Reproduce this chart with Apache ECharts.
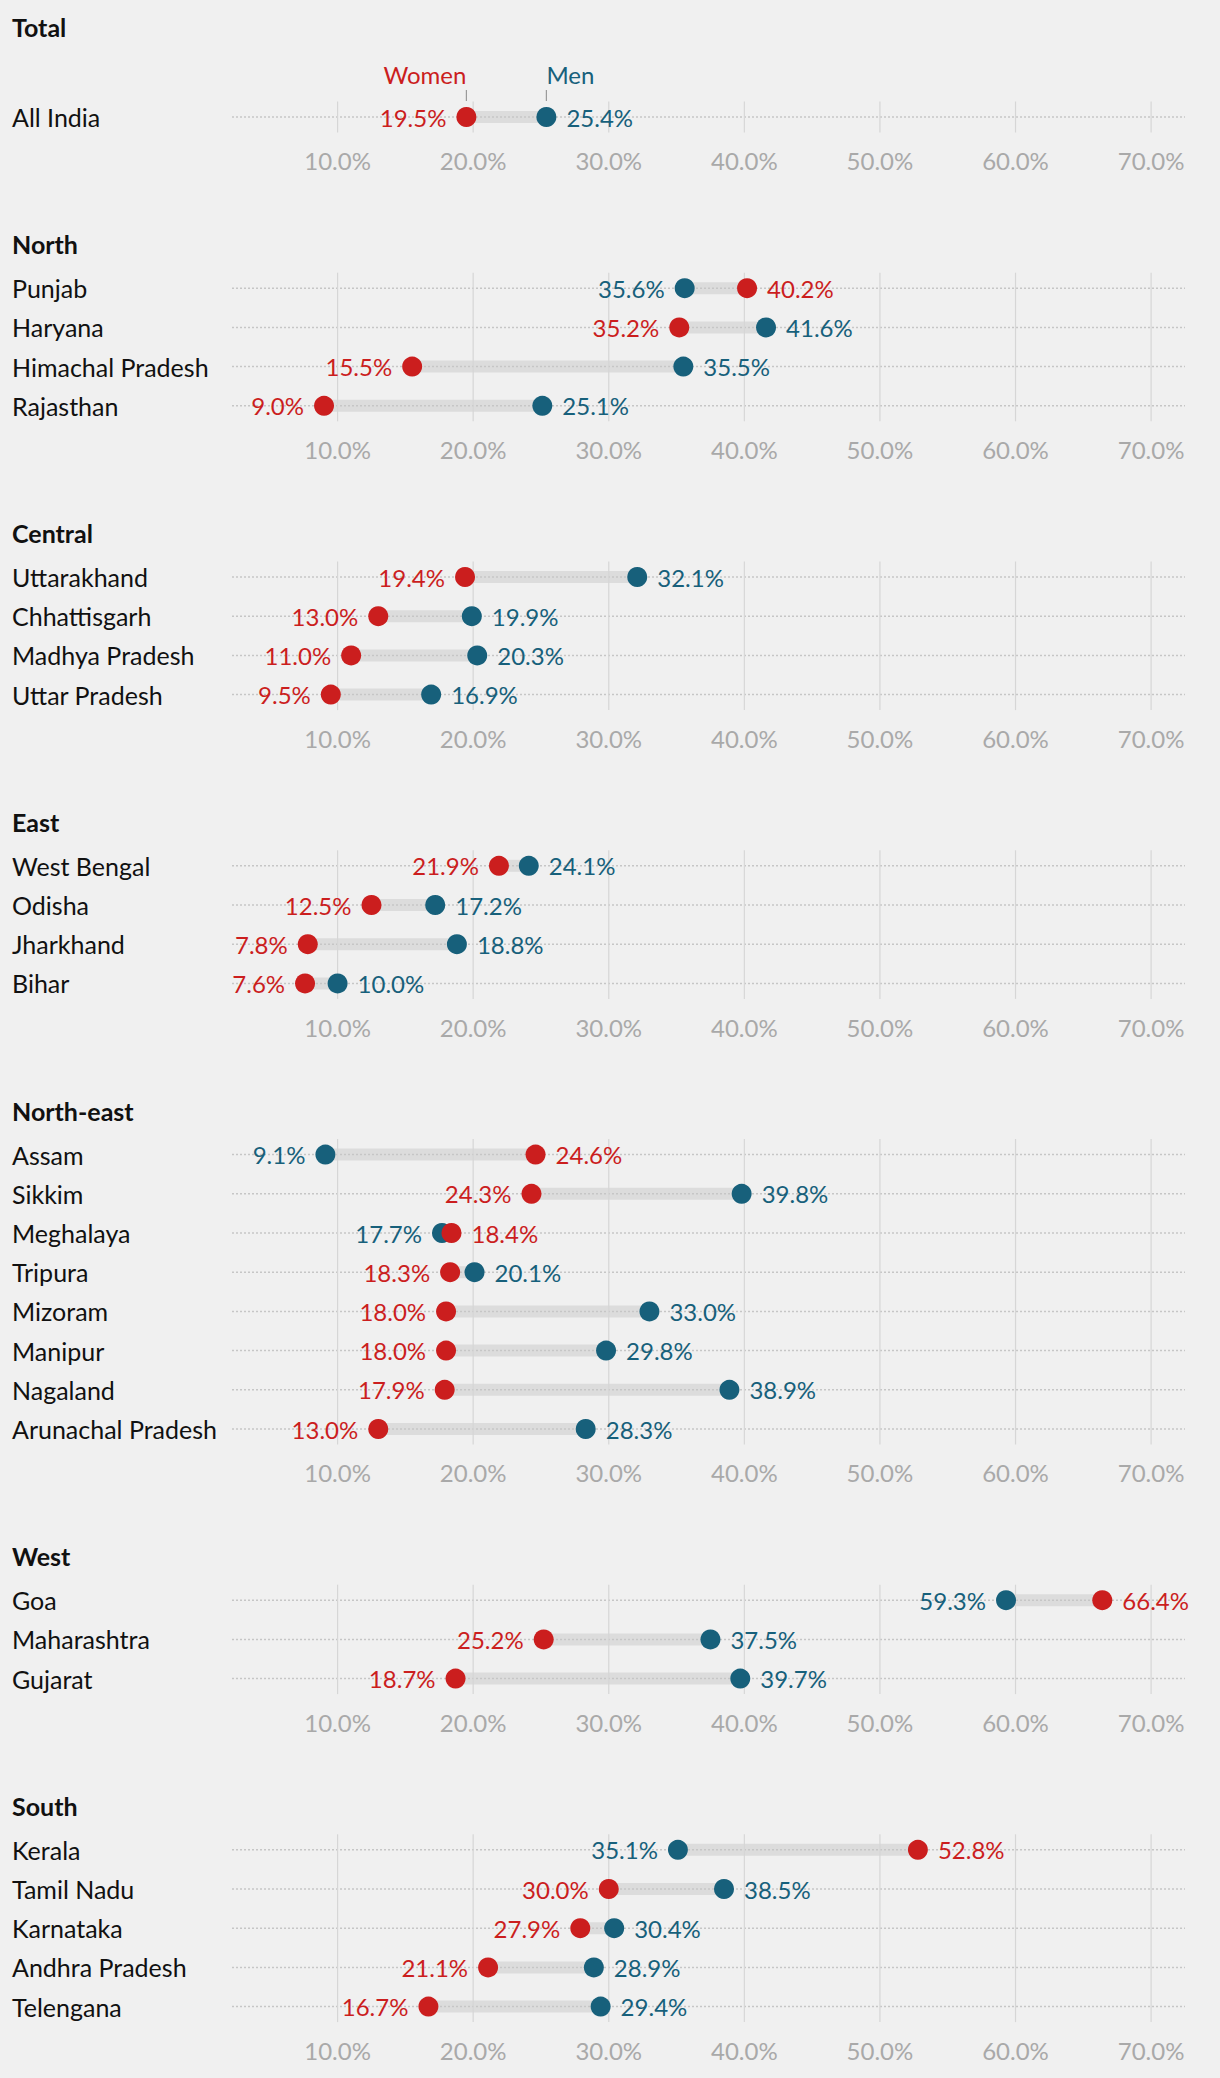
<!DOCTYPE html>
<html>
<head>
<meta charset="utf-8">
<script src="https://cdn.jsdelivr.net/npm/echarts@6/dist/echarts.min.js"></script>
<style>
html,body{margin:0;padding:0;background:#f0f0f0;}
#chart{width:1220px;height:2078px;}
</style>
</head>
<body>
<div id="chart"></div>
<script>
// ---------------- DATA ----------------
const regionNames = ['Total', 'North', 'Central', 'East', 'North-east', 'West', 'South'];

const totalStates = ['All India'];
const totalWomen  = [19.5];
const totalMen    = [25.4];

const northStates = ['Punjab', 'Haryana', 'Himachal Pradesh', 'Rajasthan'];
const northWomen  = [40.2, 35.2, 15.5, 9.0];
const northMen    = [35.6, 41.6, 35.5, 25.1];

const centralStates = ['Uttarakhand', 'Chhattisgarh', 'Madhya Pradesh', 'Uttar Pradesh'];
const centralWomen  = [19.4, 13.0, 11.0, 9.5];
const centralMen    = [32.1, 19.9, 20.3, 16.9];

const eastStates = ['West Bengal', 'Odisha', 'Jharkhand', 'Bihar'];
const eastWomen  = [21.9, 12.5, 7.8, 7.6];
const eastMen    = [24.1, 17.2, 18.8, 10.0];

const northeastStates = ['Assam', 'Sikkim', 'Meghalaya', 'Tripura', 'Mizoram', 'Manipur', 'Nagaland', 'Arunachal Pradesh'];
const northeastWomen  = [24.6, 24.3, 18.4, 18.3, 18.0, 18.0, 17.9, 13.0];
const northeastMen    = [9.1, 39.8, 17.7, 20.1, 33.0, 29.8, 38.9, 28.3];

const westStates = ['Goa', 'Maharashtra', 'Gujarat'];
const westWomen  = [66.4, 25.2, 18.7];
const westMen    = [59.3, 37.5, 39.7];

const southStates = ['Kerala', 'Tamil Nadu', 'Karnataka', 'Andhra Pradesh', 'Telengana'];
const southWomen  = [52.8, 30.0, 27.9, 21.1, 16.7];
const southMen    = [35.1, 38.5, 30.4, 28.9, 29.4];

const tickValues = [10, 20, 30, 40, 50, 60, 70];
const seriesNames = ['Women', 'Men'];

// ---------------- STYLE / LAYOUT ----------------
const FONT = 'Lato, "Noto Sans", sans-serif';
const RED = '#cb1e1e';
const BLUE = '#17607b';
const BAR = '#dcdcdc';
const GRIDC = '#d6d6d6';
const DOT = '#c6c6c6';

const panels = [
  [totalStates, totalWomen, totalMen],
  [northStates, northWomen, northMen],
  [centralStates, centralWomen, centralMen],
  [eastStates, eastWomen, eastMen],
  [northeastStates, northeastWomen, northeastMen],
  [westStates, westWomen, westMen],
  [southStates, southWomen, southMen]
];

const ROW = 39.2, GAP = 171.2, FIRST = 117, LEFT = 202, RIGHT = 35;
const X_MAX = 72.5;

const option = {
  backgroundColor: '#f0f0f0',
  animation: false,
  title: [], grid: [], xAxis: [], yAxis: [], series: []
};

let rowsBefore = 0;
panels.forEach((p, k) => {
  const [names, women, men] = p;
  const n = names.length;
  const firstRow = FIRST + k * GAP + ROW * rowsBefore;
  rowsBefore += n - 1;

  const titleCenter = k === 0 ? 27 : firstRow - 44;
  option.title.push({
    text: regionNames[k], left: 12, top: titleCenter - 15, padding: 0,
    textStyle: { fontFamily: FONT, fontWeight: 'bold', fontSize: 25, color: '#111', lineHeight: 30 }
  });

  option.grid.push({ left: LEFT, right: RIGHT, top: firstRow - ROW / 2, height: n * ROW });

  option.xAxis.push({
    gridIndex: k, type: 'value', min: 0, max: X_MAX, interval: 10,
    axisLine: { show: false }, axisTick: { show: false }, splitLine: { show: false },
    axisLabel: {
      showMinLabel: false, showMaxLabel: false, margin: 12,
      formatter: v => v.toFixed(1) + '%',
      color: '#a9a9a9', fontFamily: FONT, fontSize: 24, lineHeight: 24
    }
  });

  option.yAxis.push({
    gridIndex: k, type: 'category', inverse: true, data: names,
    axisLine: { show: false }, axisTick: { show: false }, splitLine: { show: false },
    axisLabel: { align: 'left', margin: LEFT - 12, color: '#111', fontFamily: FONT, fontSize: 25 }
  });

  // gap bars + dotted row lines
  option.series.push({
    type: 'custom', xAxisIndex: k, yAxisIndex: k, z: 1, silent: true,
    data: names.map((nm, i) => [women[i], i, men[i]]),
    encode: { x: [0, 2], y: 1 },
    renderItem: (params, api) => {
      const a = api.coord([api.value(0), api.value(1)]);
      const b = api.coord([api.value(2), api.value(1)]);
      const cs = params.coordSys;
      return {
        type: 'group', children: [
          { type: 'line', shape: { x1: a[0], y1: a[1], x2: b[0], y2: b[1] },
            style: { stroke: BAR, lineWidth: 12 } },
          { type: 'line', shape: { x1: cs.x + 30, y1: a[1], x2: cs.x + cs.width, y2: a[1] },
            style: { stroke: DOT, lineWidth: 1.5, lineDash: [2, 2] } }
        ]
      };
    }
  });

  // vertical gridlines at tick values
  option.series.push({
    type: 'custom', xAxisIndex: k, yAxisIndex: k, z: 2, silent: true,
    data: tickValues.map(v => [v, 0]),
    encode: { x: 0, y: 1 },
    renderItem: (params, api) => {
      const t = api.coord([api.value(0), 0]);
      const b = api.coord([api.value(0), n - 1]);
      return { type: 'line', shape: { x1: t[0], y1: t[1] - 15.5, x2: b[0], y2: b[1] + 15.5 },
               style: { stroke: GRIDC, lineWidth: 1.2 } };
    }
  });

  const mk = (vals, other, color, z, name) => ({
    type: 'scatter', name: name, xAxisIndex: k, yAxisIndex: k, z: z, silent: true,
    symbol: 'circle', symbolSize: 20, itemStyle: { color: color, opacity: 1 },
    data: vals.map((v, i) => ({
      value: [v, i],
      label: { position: v < other[i] ? 'left' : 'right' }
    })),
    label: {
      show: true, distance: 10, color: color, fontFamily: FONT, fontSize: 24,
      formatter: d => d.value[0].toFixed(1) + '%'
    }
  });
  option.series.push(mk(men, women, BLUE, 3, seriesNames[1]));
  option.series.push(mk(women, men, RED, 4, seriesNames[0]));

  // Women / Men key above the first panel
  if (k === 0) {
    option.series.push({
      type: 'custom', xAxisIndex: k, yAxisIndex: k, z: 5, silent: true,
      data: [[women[0], 0, 0], [men[0], 0, 1]],
      encode: { x: 0, y: 1 },
      renderItem: (params, api) => {
        const c = api.coord([api.value(0), 0]);
        const isMen = api.value(2) === 1;
        return {
          type: 'group', children: [
            { type: 'text', style: {
                text: seriesNames[isMen ? 1 : 0], x: c[0], y: c[1] - 43,
                align: isMen ? 'left' : 'right', verticalAlign: 'middle',
                fill: isMen ? BLUE : RED, fontFamily: FONT, fontSize: 24 } },
            { type: 'line', shape: { x1: c[0], y1: c[1] - 27, x2: c[0], y2: c[1] - 16 },
              style: { stroke: '#9a9a9a', lineWidth: 1.2 } }
          ]
        };
      }
    });
  }
});

const chart = echarts.init(document.getElementById('chart'), null, { renderer: 'svg' });
chart.setOption(option);
</script>
</body>
</html>
